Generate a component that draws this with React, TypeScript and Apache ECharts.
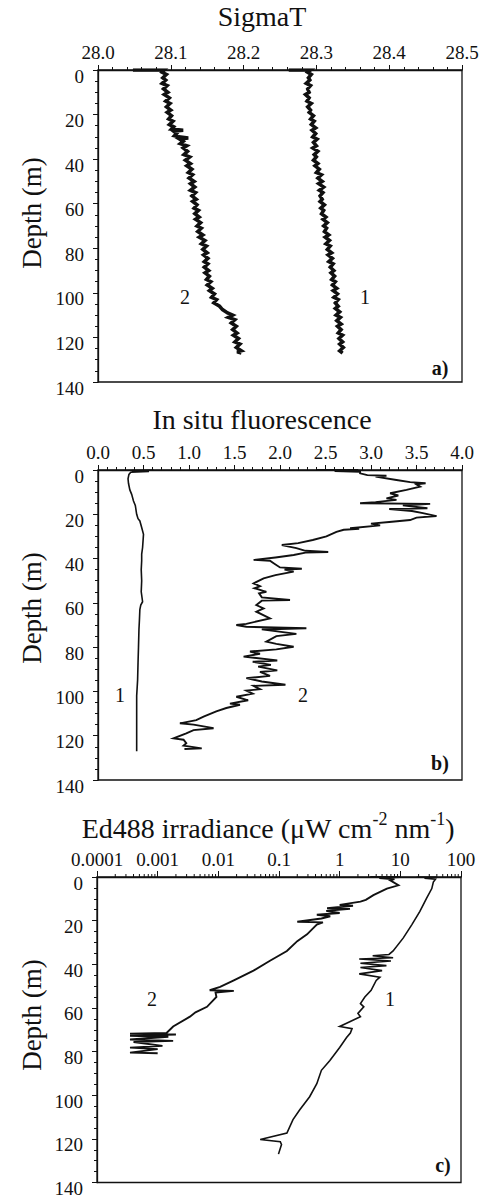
import React, { useEffect, useRef } from "react";
import * as echarts from "echarts";

// ---------- DATA ----------
// Panel a: SigmaT profiles, [value, depth]
const sigmaT1: [number, number][] = [
  [28.262, 0], [28.292, 0], [28.288, 1], [28.293, 2], [28.289, 3.5], [28.291, 4.5], [28.286, 6], [28.292, 7],
  [28.288, 8.5], [28.29, 10], [28.285, 11], [28.29, 12.5], [28.287, 14], [28.293, 15], [28.288, 16.5], [28.292, 18],
  [28.29, 19], [28.296, 20.5], [28.292, 22], [28.297, 23], [28.293, 24.5], [28.299, 26], [28.294, 27], [28.299, 28.5],
  [28.295, 30], [28.301, 31], [28.296, 32.5], [28.3, 34], [28.295, 35], [28.302, 36.5], [28.297, 38], [28.3, 39],
  [28.296, 40.5], [28.302, 42], [28.298, 43], [28.304, 44.5], [28.3, 46], [28.307, 47], [28.302, 48.5], [28.308, 50],
  [28.303, 51], [28.31, 52.5], [28.304, 54], [28.309, 55], [28.305, 56.5], [28.308, 58], [28.305, 59], [28.311, 60.5],
  [28.306, 62], [28.31, 63], [28.307, 64.5], [28.313, 66], [28.309, 67], [28.315, 68.5], [28.31, 70], [28.314, 71],
  [28.311, 72.5], [28.317, 74], [28.312, 75], [28.318, 76.5], [28.313, 78], [28.319, 79], [28.315, 80.5], [28.321, 82],
  [28.316, 83], [28.322, 84.5], [28.317, 86], [28.323, 87], [28.319, 88.5], [28.324, 90], [28.32, 91], [28.325, 92.5],
  [28.321, 94], [28.326, 95], [28.322, 96.5], [28.328, 98], [28.323, 99], [28.329, 100.5], [28.324, 102], [28.33, 103],
  [28.326, 104.5], [28.33, 106], [28.326, 107], [28.332, 108.5], [28.327, 110], [28.333, 111], [28.328, 112.5],
  [28.334, 114], [28.329, 115], [28.334, 116.5], [28.33, 118], [28.336, 119], [28.331, 120.5], [28.336, 122],
  [28.332, 123], [28.337, 124.5], [28.332, 126], [28.336, 127],
];
const sigmaT2: [number, number][] = [
  [28.048, 0], [28.091, 0], [28.088, 1], [28.094, 2], [28.089, 3.5], [28.093, 4.5], [28.088, 6], [28.095, 7],
  [28.09, 8.5], [28.096, 10], [28.091, 11], [28.098, 12.5], [28.093, 14], [28.099, 15], [28.094, 16.5], [28.1, 18],
  [28.095, 19], [28.101, 20.5], [28.097, 22], [28.103, 23], [28.098, 24.5], [28.104, 25.5], [28.101, 26.5],
  [28.117, 27], [28.104, 27.5], [28.108, 28.5], [28.105, 29.5], [28.111, 30], [28.124, 30.5], [28.112, 31],
  [28.117, 32], [28.113, 33], [28.122, 34], [28.117, 35], [28.123, 36.5], [28.118, 38], [28.126, 39], [28.12, 40.5],
  [28.127, 42], [28.122, 43], [28.129, 44.5], [28.124, 46], [28.13, 47], [28.125, 48.5], [28.132, 50], [28.127, 51],
  [28.133, 52.5], [28.127, 54], [28.134, 55], [28.129, 56.5], [28.135, 58], [28.13, 59], [28.136, 60.5],
  [28.132, 62], [28.138, 63], [28.133, 64.5], [28.139, 66], [28.134, 67], [28.141, 68.5], [28.136, 70],
  [28.142, 71], [28.137, 72.5], [28.144, 74], [28.139, 75], [28.147, 76.5], [28.142, 78], [28.149, 79],
  [28.144, 80.5], [28.15, 82], [28.145, 83], [28.151, 84.5], [28.146, 86], [28.151, 87], [28.146, 88.5],
  [28.152, 90], [28.147, 91], [28.153, 92.5], [28.149, 94], [28.155, 95], [28.15, 96.5], [28.157, 98],
  [28.153, 99], [28.16, 100.5], [28.156, 102], [28.163, 103], [28.159, 104.5], [28.167, 106], [28.171, 107.5],
  [28.178, 109], [28.185, 110], [28.179, 111], [28.188, 112], [28.183, 113.5], [28.19, 115], [28.185, 116.5],
  [28.191, 118], [28.186, 119], [28.193, 120.5], [28.188, 122], [28.195, 123], [28.19, 124.5], [28.197, 126],
  [28.191, 126.5], [28.197, 127],
];

// Panel b: in situ fluorescence, [value, depth]
const fluo1: [number, number][] = [
  [0.61, 0], [0.37, 0.3], [0.56, 0.6], [0.36, 1], [0.34, 2], [0.33, 4], [0.335, 6], [0.35, 9], [0.37, 11],
  [0.39, 14], [0.41, 16], [0.425, 20], [0.44, 22], [0.46, 23], [0.48, 26], [0.5, 29], [0.495, 32], [0.49, 35],
  [0.48, 38], [0.48, 41], [0.475, 45], [0.48, 50], [0.475, 55], [0.49, 59.5], [0.47, 61], [0.46, 63], [0.455, 68],
  [0.45, 72], [0.445, 80], [0.44, 87], [0.435, 95], [0.425, 102], [0.425, 110], [0.425, 120], [0.425, 127],
];
const fluo2: [number, number][] = [
  [2.4, 0], [2.86, 0], [2.6, 0.5], [2.88, 0.8], [2.88, 1.5], [2.96, 2.3], [3.17, 2.6], [3.05, 3], [3.28, 4.5],
  [3.43, 5.5], [3.6, 6], [3.5, 6.5], [3.54, 7.5], [3.39, 9], [3.21, 10.5], [3.3, 11.5], [3.17, 12.8], [3.28, 13.5],
  [3.05, 14.5], [2.88, 15], [3.65, 15.3], [3.35, 16], [3.62, 17.3], [3.2, 17.6], [3.45, 18.5], [3.57, 19.5],
  [3.72, 20.8], [3.5, 21.5], [3.43, 22.6], [3.2, 23.5], [3.0, 24.2], [3.1, 25], [2.77, 26.3], [2.87, 26.6],
  [2.7, 27], [2.62, 27.9], [2.51, 30], [2.36, 31.6], [2.2, 33], [2.02, 33.9], [2.18, 35.3], [2.28, 36.5],
  [2.53, 37], [2.28, 37.3], [2.15, 38.4], [1.95, 39.5], [1.71, 40.6], [1.89, 41], [1.93, 42.1], [2.0, 44.0],
  [2.24, 44.6], [2.05, 45], [2.15, 45.9], [1.95, 47.5], [1.82, 48.9], [1.71, 51.2], [1.78, 52.5], [1.72, 53.4],
  [1.85, 55], [1.77, 55.7], [1.8, 57.5], [2.11, 58.7], [1.8, 59], [1.74, 61], [1.82, 62.5], [1.74, 64],
  [1.89, 67], [1.63, 69.5], [1.52, 70], [1.63, 70.8], [2.29, 71.5], [1.8, 72], [2.18, 74], [1.96, 75],
  [1.85, 77.5], [1.96, 78.5], [2.15, 79.8], [1.96, 81], [1.67, 82], [1.78, 83], [1.6, 84.3], [1.97, 86],
  [1.7, 86.6], [1.9, 88], [1.76, 88.8], [1.97, 90.5], [1.78, 91.2], [1.89, 93], [1.63, 94], [1.8, 95.5],
  [2.06, 97], [1.71, 97.5], [1.78, 99], [1.63, 99.6], [1.7, 101], [1.52, 102.4], [1.65, 104], [1.45, 105.5],
  [1.56, 106], [1.41, 107.5], [1.3, 109], [1.16, 111.4], [1.08, 113], [0.9, 114.4], [1.05, 115], [1.27, 116.6],
  [1.05, 117.5], [0.97, 118.9], [0.83, 121.2], [0.94, 121.8], [0.97, 123.4], [0.94, 124.5], [1.14, 125.7], [0.95, 126],
];

// Panel c: Ed488 irradiance, [value, depth]
const ed1: [number, number][] = [
  [18.6, 0], [39.8, 0], [25, 0.5], [38, 1], [35, 2.3], [33, 5.3], [27, 9.8], [21, 15.8], [15.5, 21.8],
  [11.2, 27.9], [7.6, 33.9], [6.5, 35.5], [3.5, 36.1], [7.6, 37], [2.1, 37.6], [7.0, 38.5], [2.2, 39.5],
  [5.9, 40.6], [2.2, 41.5], [5.0, 42.9], [2.1, 44.4], [4.6, 45.9], [4.0, 47.4], [3.3, 51.9], [2.6, 55],
  [2.2, 58], [2.5, 59.5], [2.0, 62.5], [2.2, 64], [1.3, 67], [1.0, 68.5], [1.6, 69.5], [1.5, 71.5], [1.3, 73.6],
  [1.0, 78.1], [0.69, 84.1], [0.5, 88.6], [0.42, 94.7], [0.32, 100.7], [0.22, 106.7], [0.17, 111.2],
  [0.135, 117.3], [0.049, 120.3], [0.105, 121.3], [0.11, 122.6], [0.098, 127],
];
const ed2: [number, number][] = [
  [3.2, 0], [9.8, 0], [4.5, 0.5], [8, 1], [6.8, 1.5], [9.3, 3.8], [6.0, 5.3], [3.6, 8.3], [2.7, 10.5],
  [2.2, 11.3], [1.0, 12.8], [1.66, 13.2], [0.62, 14.3], [1.48, 14.6], [0.6, 15.5], [1.0, 16.5], [0.42, 17.3],
  [0.7, 18], [0.5, 19], [0.2, 20.5], [0.53, 20.8], [0.42, 21.8], [0.35, 24], [0.29, 26.3], [0.2, 29.4],
  [0.135, 33.9], [0.071, 38.4], [0.038, 42.9], [0.018, 47.4], [0.0107, 50.4], [0.0072, 51.9], [0.018, 52.2],
  [0.009, 53], [0.0093, 55], [0.0065, 59.5], [0.0042, 62], [0.0034, 64], [0.0018, 68.5], [0.0014, 71.5],
  [0.00035, 71.8], [0.002, 72.2], [0.00035, 72.8], [0.0015, 73.2], [0.00035, 74.5], [0.0018, 75.1],
  [0.0004, 75.6], [0.0012, 77.4], [0.00035, 78.2], [0.001, 78.9], [0.00035, 80.5], [0.001, 80.8],
];

const depthTicks = { min: 0, max: 140, interval: 20 };
const edDecades = [0.0001, 0.001, 0.01, 0.1, 1, 10];
const edMinorMultipliers = [2, 3, 4, 5, 6, 7, 8, 9];

// ---------- STYLE ----------
const FONT = "Liberation Serif";
const INK = "#111";

const grids = [
  { left: 98, top: 70, width: 364, height: 312 },
  { left: 98, top: 470, width: 364, height: 310 },
  { left: 97, top: 877, width: 364, height: 310 },
];

function xAxisBase(gridIndex: number) {
  return {
    gridIndex,
    position: "top",
    axisLine: { show: true, onZero: false, lineStyle: { color: INK, width: 1.3 } },
    axisTick: { show: true, inside: false, length: 5, lineStyle: { color: INK } },
    minorTick: { show: true, splitNumber: 5, length: 3, lineStyle: { color: INK } },
    splitLine: { show: false },
    minorSplitLine: { show: false },
    axisLabel: { color: INK, fontFamily: FONT, fontSize: 19, margin: 8 },
  };
}

function yAxisBase(gridIndex: number) {
  return {
    gridIndex,
    type: "value",
    inverse: true,
    ...depthTicks,
    axisLine: { show: true, onZero: false, lineStyle: { color: INK, width: 1.3 } },
    axisTick: { show: true, inside: false, length: 5, lineStyle: { color: INK } },
    minorTick: { show: true, splitNumber: 4, length: 3, lineStyle: { color: INK } },
    splitLine: { show: false },
    axisLabel: { color: INK, fontFamily: FONT, fontSize: 19, margin: 14, verticalAlign: "top", lineHeight: 12 },
  };
}

function txt(x: number, y: number, text: string, size = 20, weight: any = "normal", extra: any = {}) {
  return {
    type: "text",
    x,
    y,
    ...extra,
    style: {
      text,
      fill: INK,
      font: `${weight} ${size}px "${FONT}"`,
      align: "center",
      verticalAlign: "middle",
    },
  };
}

export default function App() {
  const ref = useRef<HTMLDivElement>(null);
  useEffect(() => {
    if (!ref.current) return;
    const chart = echarts.init(ref.current, undefined, { renderer: "svg" });

    const minorTickData: [number, number][] = [];
    edDecades.forEach((d) => edMinorMultipliers.forEach((m) => minorTickData.push([d * m, 0])));

    const lineSeries = (data: [number, number][], idx: number, width: number) => ({
      type: "line",
      xAxisIndex: idx,
      yAxisIndex: idx,
      data,
      showSymbol: false,
      symbol: "none",
      lineStyle: { color: INK, width, join: "miter" },
      silent: true,
      clip: true,
    });

    chart.setOption({
      animation: false,
      backgroundColor: "#fff",
      grid: grids.map((g) => ({ ...g, show: true, borderColor: INK, borderWidth: 1.3, backgroundColor: "transparent" })),
      xAxis: [
        { ...xAxisBase(0), type: "value", min: 28.0, max: 28.5, interval: 0.1, axisLabel: { ...xAxisBase(0).axisLabel, formatter: (v: number) => v.toFixed(1) } },
        { ...xAxisBase(1), type: "value", min: 0, max: 4, interval: 0.5, axisLabel: { ...xAxisBase(1).axisLabel, formatter: (v: number) => v.toFixed(1) } },
        {
          ...xAxisBase(2),
          type: "log",
          logBase: 10,
          min: 0.0001,
          max: 100,
          splitNumber: 6,
          minorTick: { show: false },
          axisTick: { show: true, inside: false, length: 6, lineStyle: { color: INK } },
          axisLabel: { ...xAxisBase(2).axisLabel, formatter: (v: number) => String(Number(Number(v).toPrecision(1))) },
        },
      ],
      yAxis: [yAxisBase(0), yAxisBase(1), yAxisBase(2)],
      series: [
        lineSeries(sigmaT1, 0, 3.5),
        lineSeries(sigmaT2, 0, 3.5),
        lineSeries(fluo1, 1, 1.6),
        lineSeries(fluo2, 1, 1.9),
        lineSeries(ed1, 2, 1.6),
        lineSeries(ed2, 2, 1.9),
        {
          type: "custom",
          xAxisIndex: 2,
          yAxisIndex: 2,
          clip: false,
          silent: true,
          data: minorTickData,
          encode: { x: 0, y: 1 },
          renderItem: (_params: any, api: any) => {
            const p = api.coord([api.value(0), 0]);
            return {
              type: "line",
              shape: { x1: p[0], y1: p[1], x2: p[0], y2: p[1] - 3 },
              style: { stroke: INK, lineWidth: 1 },
            };
          },
        },
      ],
      graphic: [
        txt(262, 16, "SigmaT", 28),
        txt(262, 419, "In situ fluorescence", 28),
        {
          type: "text",
          x: 268,
          y: 826,
          style: {
            text: "{m|Ed488 irradiance (μW cm}{s|-2}{m| nm}{s|-1}{m|)}",
            fill: INK,
            align: "center",
            verticalAlign: "middle",
            rich: {
              m: { fontFamily: FONT, fontSize: 28, fill: INK, lineHeight: 32, verticalAlign: "bottom" },
              s: { fontFamily: FONT, fontSize: 18, fill: INK, lineHeight: 32, verticalAlign: "top", padding: [0, 0, 10, 0] },
            },
          },
        },
        txt(32, 213, "Depth (m)", 27, "normal", { rotation: Math.PI / 2 }),
        txt(32, 608, "Depth (m)", 27, "normal", { rotation: Math.PI / 2 }),
        txt(32, 1015, "Depth (m)", 27, "normal", { rotation: Math.PI / 2 }),
        txt(185, 297, "2", 20),
        txt(365, 297, "1", 20),
        txt(120, 695, "1", 20),
        txt(303, 695, "2", 20),
        txt(152, 999, "2", 20),
        txt(390, 999, "1", 20),
        txt(440, 368, "a)", 20, "bold"),
        txt(440, 763, "b)", 20, "bold"),
        txt(443, 1165, "c)", 20, "bold"),
      ],
    });
    return () => chart.dispose();
  }, []);
  return <div ref={ref} style={{ position: "absolute", left: 0, top: 0, width: 485, height: 1198 }} />;
}
